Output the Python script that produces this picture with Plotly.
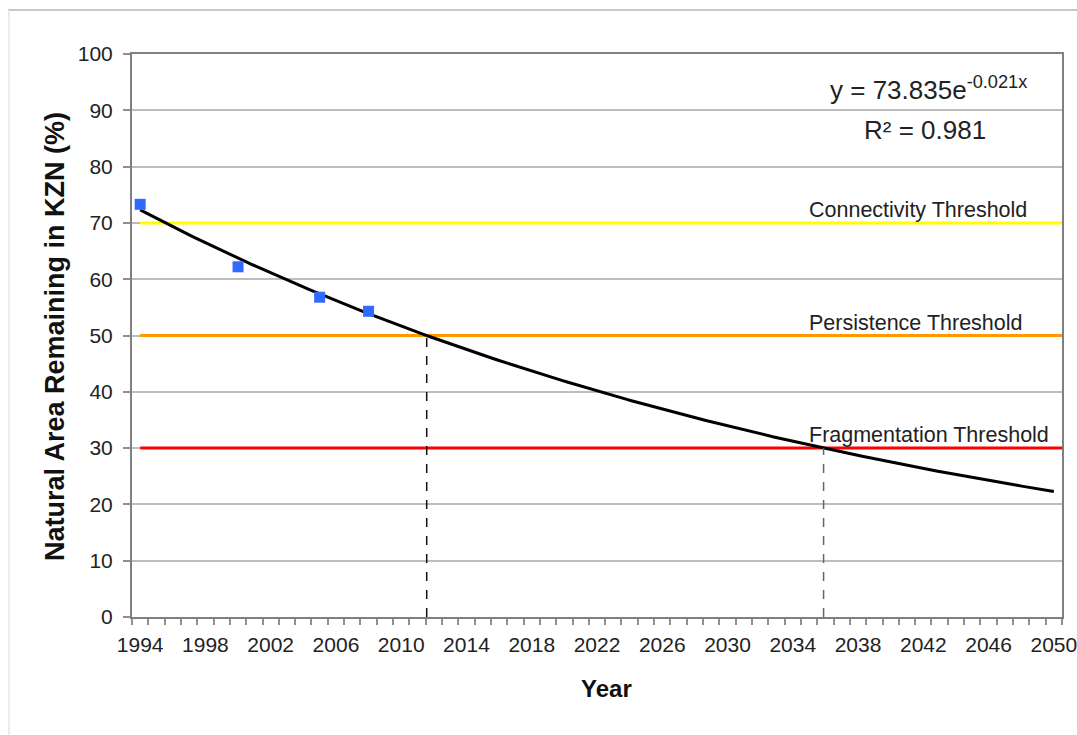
import numpy as np
import plotly.graph_objects as go

# Observed natural area remaining (%)
years = [1994, 2000, 2005, 2008]
area_pct = [73.3, 62.2, 56.8, 54.3]

# Exponential trendline, x counted as 1 at 1994
fit_a = 73.835
fit_b = -0.021
fit_r2 = 0.981
base_year = 1993

# Thresholds
threshold_names = ["Connectivity Threshold", "Persistence Threshold", "Fragmentation Threshold"]
threshold_values = [70, 50, 30]
threshold_colors = ["#FFFF00", "#FF9900", "#FF0000"]

x_tick_labels = list(range(1994, 2051, 4))
y_tick_labels = list(range(0, 101, 10))

W, H = 1077, 735
L, R, T, B = 132, 15, 54, 118
FONT = "Liberation Sans, Arial, sans-serif"

fig = go.Figure()

# threshold lines
for name, val, col in zip(threshold_names, threshold_values, threshold_colors):
    fig.add_trace(go.Scatter(x=[1994, 2050.5], y=[val, val], mode="lines",
                             line=dict(color=col, width=3), hoverinfo="skip",
                             showlegend=False))
    fig.add_annotation(x=2034.9, y=val, xref="x", yref="y", text=name,
                       showarrow=False, xanchor="left", yanchor="bottom", yshift=-1,
                       font=dict(family=FONT, size=21.5, color="#222"))

# trendline
fx = np.linspace(1994, 2050, 200)
fy = fit_a * np.exp(fit_b * (fx - base_year))
fig.add_trace(go.Scatter(x=fx, y=fy, mode="lines", line=dict(color="black", width=3),
                         showlegend=False, hoverinfo="skip"))

# year at which the trendline crosses the lower thresholds
dash_colors = ["#111111", "#666666"]
for val, dc in zip(threshold_values[1:], dash_colors):
    cx = base_year + np.log(val / fit_a) / fit_b
    fig.add_trace(go.Scatter(x=[cx, cx], y=[0, val], mode="lines",
                             line=dict(color=dc, width=1.5, dash="dash"),
                             showlegend=False, hoverinfo="skip"))

# observations
fig.add_trace(go.Scatter(x=years, y=area_pct, mode="markers",
                         marker=dict(symbol="square", size=11, color="#2F6BFF"),
                         showlegend=False))

# trendline equation
pw, ph = W - L - R, H - T - B
fig.add_annotation(x=(928 - L) / pw, y=90.6, xref="paper", yref="y",
                   text="y = 73.835e<sup>-0.021x</sup>", showarrow=False,
                   xanchor="center", yanchor="bottom",
                   font=dict(family=FONT, size=26, color="#222"))
fig.add_annotation(x=(925 - L) / pw, y=89.6, xref="paper", yref="y",
                   text=f"R² = {fit_r2}", showarrow=False,
                   xanchor="center", yanchor="top",
                   font=dict(family=FONT, size=26, color="#222"))

# axis titles
fig.add_annotation(x=(606 - L) / pw, y=-(688 - (H - B)) / ph,
                   xref="paper", yref="paper", text="<b>Year</b>", showarrow=False,
                   xanchor="center", yanchor="middle",
                   font=dict(family=FONT, size=24, color="#111"))
fig.add_annotation(x=-(L - 55) / pw, y=1 - (337 - T) / ph, xref="paper", yref="paper",
                   text="<b>Natural Area Remaining in KZN (%)</b>", showarrow=False,
                   textangle=-90, xanchor="center", yanchor="middle",
                   font=dict(family=FONT, size=27, color="#111"))

# outer chart frame (top and left edges)
fig.add_shape(type="line", xref="paper", yref="paper",
              x0=-(L - 8) / pw, x1=(W - L + 5) / pw, y0=1 + (T - 10) / ph, y1=1 + (T - 10) / ph,
              line=dict(color="#c8c8c8", width=2))
fig.add_shape(type="line", xref="paper", yref="paper",
              x0=-(L - 9) / pw, x1=-(L - 9) / pw, y0=1 + (T - 10) / ph, y1=-(B + 5) / ph,
              line=dict(color="#e6e6e6", width=1.5))

fig.update_layout(
    width=W, height=H,
    margin=dict(l=L, r=R, t=T, b=B, autoexpand=False),
    paper_bgcolor="white", plot_bgcolor="white",
    font=dict(family=FONT, size=21, color="#222"),
    showlegend=False,
)
fig.update_xaxes(
    range=[1993.5, 2050.5], tickmode="array", tickvals=x_tick_labels,
    ticktext=[str(v) for v in x_tick_labels], ticks="",
    ticklabelstandoff=8, ticklabeloverflow="allow", automargin=False,
    showgrid=False, zeroline=False,
    showline=True, linecolor="#808080", linewidth=2, mirror=True,
    tickfont=dict(family=FONT, size=21, color="#222"),
    minor=dict(ticks="outside", tick0=1993.5, dtick=1, ticklen=6,
               tickcolor="#909090", tickwidth=1.5, showgrid=False),
)
fig.update_yaxes(
    range=[0, 100], tickmode="array", tickvals=y_tick_labels,
    ticks="outside", ticklen=7, tickcolor="#909090", tickwidth=1.5,
    ticklabelstandoff=6, automargin=False,
    showgrid=True, gridcolor="#bdbdbd", gridwidth=1.5, zeroline=False,
    showline=True, linecolor="#808080", linewidth=2, mirror=True,
    tickfont=dict(family=FONT, size=21, color="#222"),
)

fig.write_html("out.html")
